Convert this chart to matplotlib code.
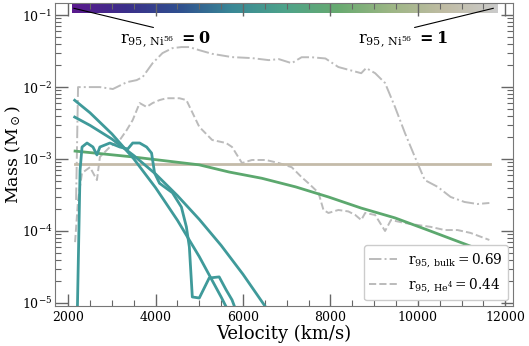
import numpy as np
import matplotlib
matplotlib.use("Agg")
import matplotlib.pyplot as plt
from matplotlib.colors import LinearSegmentedColormap
from matplotlib.ticker import MultipleLocator

plt.rcParams['font.family'] = ['DejaVu Serif']
plt.rcParams['mathtext.fontset'] = 'dejavuserif'

# bulk ejecta (dash-dot)
bulk_v = [2182, 2227, 2727, 3023, 3341, 3568, 3705, 3932, 4159, 4386, 4591, 4773,
          5000, 5295, 5750, 6205, 6591, 6818, 7114, 7341, 7568, 7886, 8182, 8705,
          8818, 9023, 9250, 9477, 9705, 9932, 10159, 10455, 10750, 11068, 11364, 11636]
bulk_m = [2.7e-4, 1.0e-2, 1.0e-2, 9.4e-3, 1.17e-2, 1.25e-2, 1.38e-2, 2.15e-2, 2.97e-2,
          3.48e-2, 3.6e-2, 3.6e-2, 3.26e-2, 2.9e-2, 2.61e-2, 2.53e-2, 2.37e-2, 2.45e-2,
          2.15e-2, 2.6e-2, 2.6e-2, 2.5e-2, 1.9e-2, 1.56e-2, 1.84e-2, 1.56e-2, 1.14e-2,
          5.3e-3, 2.3e-3, 1.07e-3, 5.1e-4, 4.1e-4, 2.97e-4, 2.53e-4, 2.37e-4, 2.45e-4]

# He4 (dashed)
he_v = [2159, 2227, 2318, 2500, 2659, 2727, 2955, 3182, 3341, 3477, 3636, 3795, 3932,
        4091, 4250, 4545, 4705, 5000, 5295, 5614, 5750, 5977, 6205, 6523, 6818, 7114,
        7341, 7500, 7727, 7841, 7955, 8182, 8409, 8568, 8705, 8795, 9023, 9250, 9386,
        9705, 10000, 10295, 10614, 10909, 11205, 11636]
he_m = [7.0e-5, 2.7e-4, 6.4e-4, 7.7e-4, 5.1e-4, 1.07e-3, 1.47e-3, 1.84e-3, 2.53e-3,
        3.48e-3, 6.0e-3, 5.3e-3, 6.0e-3, 6.6e-3, 7.0e-3, 7.0e-3, 6.6e-3, 2.8e-3,
        1.84e-3, 1.67e-3, 1.47e-3, 8.8e-4, 9.7e-4, 9.7e-4, 8.8e-4, 7.7e-4, 5.6e-4,
        4.6e-4, 3.4e-4, 1.96e-4, 1.78e-4, 1.96e-4, 1.87e-4, 1.67e-4, 1.42e-4, 1.78e-4,
        1.67e-4, 1.0e-4, 1.42e-4, 1.29e-4, 1.21e-4, 1.14e-4, 1.03e-4, 1.03e-4, 9.4e-5,
        7.5e-5]

# Ni56 tracer (jagged teal)
ni_v = [2205, 2273, 2318, 2432, 2568, 2659, 2727, 2955, 3182, 3364, 3477, 3636, 3795,
        3909, 3977, 4091, 4386, 4591, 4705, 4773, 4841, 5000, 5227, 5455, 5614, 5750, 5841]
ni_m = [5e-6, 7.0e-4, 1.47e-3, 1.67e-3, 1.47e-3, 1.14e-3, 1.47e-3, 1.67e-3, 1.47e-3,
        1.38e-3, 1.67e-3, 1.67e-3, 1.47e-3, 1.21e-3, 6.4e-4, 4.6e-4, 3.4e-4, 2.15e-4,
        1.14e-4, 6.0e-5, 1.21e-5, 1.17e-5, 2.22e-5, 2.3e-5, 1.52e-5, 1.1e-5, 7.8e-6]

# smooth model curves
fit_a_v = [2150, 2500, 3000, 3500, 4000, 4500, 5000, 5500, 5800]
fit_a_m = [6.56e-3, 4.4e-3, 2.24e-3, 1.01e-3, 4.0e-4, 1.41e-4, 4.4e-5, 1.21e-5, 5.3e-6]
fit_b_v = [2150, 2500, 3000, 3500, 4000, 4500, 5000, 5500, 6000, 6500, 6800]
fit_b_m = [3.83e-3, 2.94e-3, 1.9e-3, 1.12e-3, 6.2e-4, 3.1e-4, 1.45e-4, 6.3e-5, 2.5e-5,
           9.1e-6, 4.8e-6]
fit_c_v = [2159, 3477, 5000, 5682, 6432, 7205, 7955, 8705, 9477, 10227, 11636]
fit_c_m = [1.29e-3, 1.07e-3, 8.3e-4, 6.6e-4, 5.4e-4, 4.1e-4, 2.97e-4, 2.08e-4,
           1.52e-4, 1.03e-4, 4.9e-5]
flat_v = [2150, 11650]
flat_m = [8.6e-4, 8.6e-4]

r95_bulk = 0.69
r95_he = 0.44

cmap = LinearSegmentedColormap.from_list(
    'r95', ['#5b1a8e', '#3b2f8a', '#2f4f8f', '#3a8896', '#4ea38a', '#68aa70',
            '#9db685', '#c0bca4', '#cbcbcb'])
teal = '#3f9a9a'
green = '#5ca86e'
beige = '#c4bba9'

fig = plt.figure(figsize=(5.29, 3.46), dpi=100)
ax = fig.add_axes([0.104, 0.116, 0.866, 0.875])

ax.plot(bulk_v, bulk_m, color='#bbbbbb', lw=1.4, ls='-.',
        label=r'$\mathrm{r}_{95,\,\mathrm{bulk}} = %.2f$' % r95_bulk)
ax.plot(he_v, he_m, color='#bbbbbb', lw=1.4, ls='--',
        label=r'$\mathrm{r}_{95,\,\mathrm{He}^4} = %.2f$' % r95_he)
ax.plot(flat_v, flat_m, color=beige, lw=2)
ax.plot(fit_c_v, fit_c_m, color=green, lw=2)
ax.plot(fit_a_v, fit_a_m, color=teal, lw=2)
ax.plot(fit_b_v, fit_b_m, color=teal, lw=2)
ax.plot(ni_v, ni_m, color=teal, lw=2)

ax.set_yscale('log')

# colour strip along the top
grad = np.linspace(0, 1, 256).reshape(1, -1)
ax.imshow(grad, aspect='auto', cmap=cmap, extent=[0.037, 0.965, 0.967, 1.0],
          transform=ax.transAxes, zorder=1)
ax.set_xlim(1700, 12180)
ax.set_ylim(9.1e-6, 0.147)

ax.annotate(r'$\mathrm{r}_{95,\,\mathrm{Ni}^{56}}$ $\mathbf{= 0}$',
            xy=(0.041, 0.983), xycoords='axes fraction',
            xytext=(0.24, 0.877), textcoords='axes fraction',
            ha='center', va='center', fontsize=11.5,
            arrowprops=dict(arrowstyle='-', color='k', lw=0.8, relpos=(0.5, 1.0),
                            shrinkA=0, shrinkB=0))
ax.annotate(r'$\mathrm{r}_{95,\,\mathrm{Ni}^{56}}$ $\mathbf{= 1}$',
            xy=(0.957, 0.983), xycoords='axes fraction',
            xytext=(0.76, 0.877), textcoords='axes fraction',
            ha='center', va='center', fontsize=11.5,
            arrowprops=dict(arrowstyle='-', color='k', lw=0.8, relpos=(0.5, 1.0),
                            shrinkA=0, shrinkB=0))

ax.xaxis.set_major_locator(MultipleLocator(2000))
ax.xaxis.set_minor_locator(MultipleLocator(500))
ax.tick_params(which='both', direction='in', top=True, right=True, color='#666666',
               labelsize=9)
ax.tick_params(axis='y', which='both', pad=2)
ax.tick_params(which='major', length=9, width=1)
ax.tick_params(which='minor', length=4, width=0.8)
for s in ax.spines.values():
    s.set_color('#777777')

ax.set_xlabel('Velocity (km/s)', fontsize=13, labelpad=1)
ax.set_ylabel(r'Mass (M$_\odot$)', fontsize=12.5, labelpad=-1)

ax.legend(loc='lower right', fontsize=9.8, handlelength=2.0, framealpha=1,
          borderaxespad=0.4)

fig.savefig('out.png', dpi=100)
